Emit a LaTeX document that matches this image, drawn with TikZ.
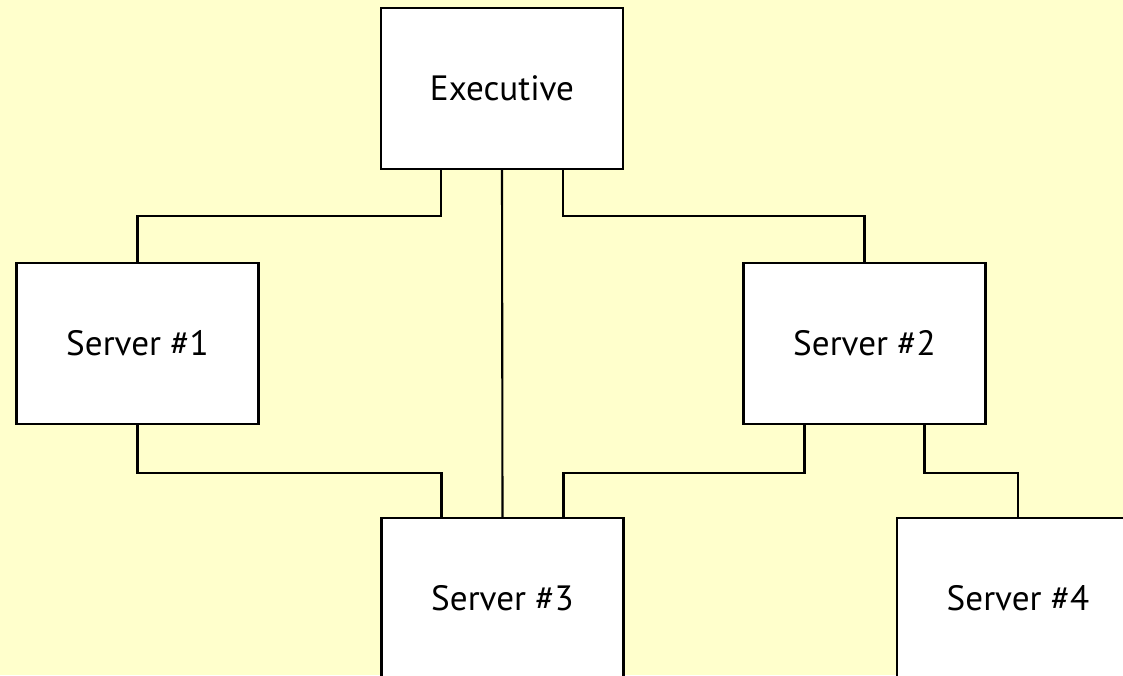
\documentclass[tikz,border=0pt]{standalone}
\usepackage{fontspec}
\setmainfont{PT Sans}
\usepackage{tikz}

\definecolor{paper}{RGB}{255,255,204}

\begin{document}
\begin{tikzpicture}[
        unit/.style={draw,line width=1.6pt,fill=white,minimum width=60.5mm,minimum height=40.25mm,font=\fontsize{25}{29}\selectfont},
        link/.style={line width=1.5pt}
    ]

    \fill[paper] (0,0) rectangle (28.075,-16.875);
    \useasboundingbox (0,0) rectangle (28.075,-16.875);

    \node[unit] (exec) at (12.55,-2.2125) {Executive};
    \node[unit] (server1) at (3.4375,-8.5875) {Server \#1};
    \node[unit] (server2) at (21.6125,-8.5875) {Server \#2};
    \node[unit] (server3) at (12.5625,-14.9625) {Server \#3};
    \node[unit] (server4) at (25.45,-14.9625) {Server \#4};

    \draw[link] ([xshift=-15.25mm]exec.south) -- ++(0,-1.15) -| (server1.north);
    \draw[link] (exec.south) -- (server3.north);
    \draw[link] ([xshift=15.25mm]exec.south) -- ++(0,-1.15) -| (server2.north);
    \draw[link] (server1.south) -- ++(0,-1.2) -| ([xshift=-15.25mm]server3.north);
    \draw[link] ([xshift=-15mm]server2.south) -- ++(0,-1.2) -| ([xshift=15.25mm]server3.north);
    \draw[link] ([xshift=15mm]server2.south) -- ++(0,-1.2) -| (server4.north);

\end{tikzpicture}
\end{document}
